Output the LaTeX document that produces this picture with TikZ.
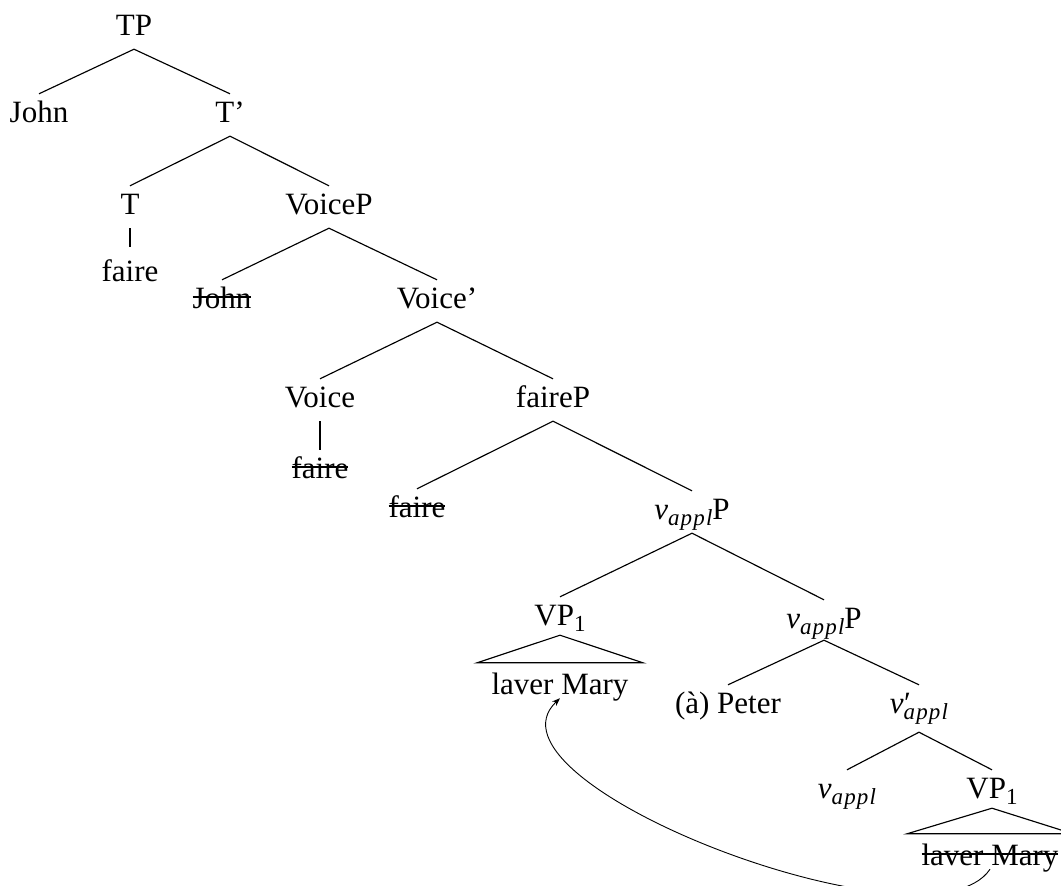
\documentclass[tikz,border=0pt]{standalone}
\usepackage{fontspec}
\setmainfont{Liberation Serif}
\newfontfamily\subfont[LetterSpace=5]{Liberation Serif}
\usetikzlibrary{arrows.meta}
\newcommand\sbs[1]{\raisebox{-6.5pt}{\fontsize{23}{23}\selectfont #1}}
\newcommand\vap{\textit{v}\sbs{\subfont\itshape appl}}
\newcommand\vbr{\textit{v}\rlap{\kern0.5pt ′}\sbs{\subfont\itshape appl}}
\newcommand\strk[1]{\setbox0=\hbox{#1}\rlap{\rule[10pt]{\wd0}{2pt}}\box0}
\begin{document}
\begin{tikzpicture}[x=1pt,y=-1pt,
  lbl/.style={anchor=base, inner sep=0pt, text height=28pt, text depth=14pt,
              font=\fontsize{31}{36}\selectfont},
  roofed/.style={lbl, text height=31pt, text depth=4pt},
  edge/.style={line width=1.15pt},
  movearrow/.style={line width=0.9pt, -{Stealth[length=8pt,width=6pt]}}]
\useasboundingbox (0,0) rectangle (1061,886);
% nodes
\node[lbl] (TP) at (134,35) {TP};
\node[lbl] (John1) at (39,122) {John};
\node[lbl] (Tbar) at (230,122) {T'};
\node[lbl] (T) at (130,214) {T};
\node[lbl] (VoiceP) at (329,214) {VoiceP};
\node[lbl, text height=34pt] (faire1) at (130,281) {faire};
\node[lbl] (John2) at (222,308) {\strk{John}};
\node[lbl] (Voicebar) at (437,308) {Voice'};
\node[lbl] (Voice) at (320,407) {Voice};
\node[lbl] (faireP) at (553,407) {faireP};
\node[lbl] (faire2) at (320,478) {\strk{faire}};
\node[lbl] (faire3) at (417,517) {\strk{faire}};
\node[lbl] (vapplP) at (692,519) {\vap P};
\node[lbl, text depth=10pt] (VPa) at (560,625) {VP\sbs{1}};
\node[lbl, text depth=12pt] (vapplPb) at (824,628) {\vap P};
\node[roofed] (laver1) at (560,694) {laver Mary};
\node[lbl] (Peter) at (728,713) {(à) Peter};
\node[lbl, text depth=19pt] (vbar) at (919,713) {\vbr};
\node[lbl] (vappl) at (847,798) {\vap};
\node[lbl, text depth=10pt] (VPb) at (992,798) {VP\sbs{1}};
\node[roofed] (laver2) at (990,865) {\strk{laver Mary}};
% edges
\draw[edge] (TP.south) -- (John1.north);
\draw[edge] (TP.south) -- (Tbar.north);
\draw[edge] (Tbar.south) -- (T.north);
\draw[edge] (Tbar.south) -- (VoiceP.north);
\draw[edge] (T.south) -- (faire1.north);
\draw[edge] (VoiceP.south) -- (John2.north);
\draw[edge] (VoiceP.south) -- (Voicebar.north);
\draw[edge] (Voicebar.south) -- (Voice.north);
\draw[edge] (Voicebar.south) -- (faireP.north);
\draw[edge] (Voice.south) -- (faire2.north);
\draw[edge] (faireP.south) -- (faire3.north);
\draw[edge] (faireP.south) -- (vapplP.north);
\draw[edge] (vapplP.south) -- (VPa.north);
\draw[edge] (vapplP.south) -- (vapplPb.north);
\draw[edge] (VPa.south) -- ([xshift=-83pt]laver1.north) -- ([xshift=83pt]laver1.north) -- cycle;
\draw[edge] (vapplPb.south) -- (Peter.north);
\draw[edge] (vapplPb.south) -- (vbar.north);
\draw[edge] (vbar.south) -- (vappl.north);
\draw[edge] (vbar.south) -- (VPb.north);
\draw[edge] (VPb.south) -- ([xshift=-83pt]laver2.north) -- ([xshift=83pt]laver2.north) -- cycle;
% movement arrow
\draw[movearrow] (laver2.south) .. controls +(-60,90) and +(-90,85) .. (laver1.south);
\end{tikzpicture}
\end{document}
